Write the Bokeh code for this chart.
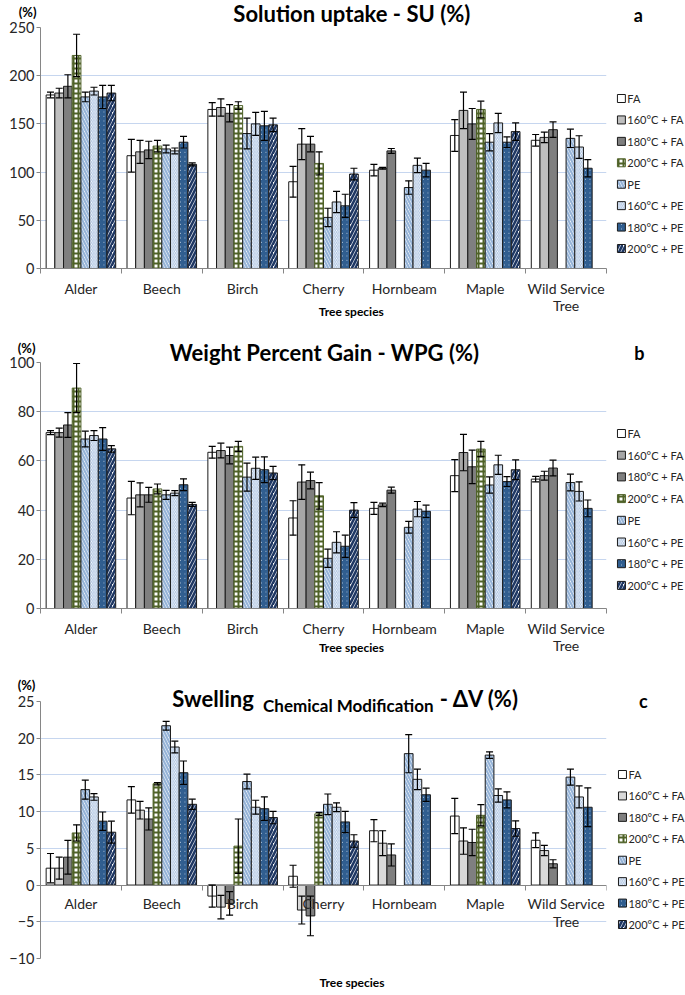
import numpy as np
from bokeh.plotting import figure
from bokeh.models import (Range1d, FixedTicker, SingleIntervalTicker, ColumnDataSource,
                          Whisker, TeeHead)
from bokeh.layouts import column
from bokeh.core.properties import value
from bokeh.embed import file_html
from bokeh.resources import INLINE

# ---------------- data ----------------
SPECIES = ["Alder", "Beech", "Birch", "Cherry", "Hornbeam", "Maple", "Wild Service\nTree"]
TREATMENTS = ["FA", "160°C + FA", "180°C + FA", "200°C + FA",
              "PE", "160°C + PE", "180°C + PE", "200°C + PE"]

# Solution uptake SU (%) - one list per treatment, one value per species
SU_MEAN = [
    [180, 117, 165, 90, 102, 138, 133],
    [182, 121, 167, 129, 104, 164, 136],
    [189, 123, 161, 129, 122, 150, 144],
    [221, 127, 169, 109, None, 165, None],
    [178, 124, 140, 53, 84, 131, 135],
    [184, 122, 150, 69, 107, 151, 126],
    [178, 131, 148, 65, 102, 131, 104],
    [182, 108, 149, 98, None, 142, None],
]
SU_ERR = [
    [3, 17, 7, 16, 6, 16.5, 6],
    [5, 12, 9, 16, 1, 19, 5.5],
    [12, 9, 9, 8, 2.5, 16, 8],
    [22, 6, 4, 12, None, 8.6, None],
    [5, 4, 16, 9.5, 7, 9, 9.5],
    [4, 3, 12, 11, 7.5, 10, 11.7],
    [12, 6, 15, 12, 7, 5.5, 9],
    [8, 1.5, 7, 6, None, 9, None],
]

# Weight percent gain WPG (%)
WPG_MEAN = [
    [71.5, 44.9, 63.5, 36.8, 40.7, 54.0, 52.6],
    [71.5, 46.2, 64.2, 51.4, 42.1, 63.4, 54.0],
    [74.6, 46.2, 62.2, 52.0, 48.1, 57.6, 57.1],
    [89.6, 48.6, 65.9, 45.8, None, 64.8, None],
    [68.9, 46.2, 53.4, 20.4, 33.0, 50.2, 51.2],
    [70.3, 46.9, 57.0, 26.9, 40.4, 58.4, 47.6],
    [68.9, 50.3, 56.4, 25.3, 39.5, 51.6, 40.7],
    [64.9, 42.3, 55.1, 40.0, None, 56.4, None],
]
WPG_ERR = [
    [0.8, 6.8, 2.4, 7.0, 2.4, 6.5, 1.1],
    [1.8, 4.9, 3.0, 7.0, 0.7, 7.4, 1.8],
    [5.0, 3.0, 3.4, 3.4, 1.2, 6.8, 3.2],
    [10.0, 2.0, 2.0, 5.4, None, 3.1, None],
    [3.2, 1.8, 5.7, 3.7, 2.4, 3.3, 3.4],
    [2.0, 1.0, 4.5, 4.3, 3.1, 3.9, 3.9],
    [4.6, 2.4, 5.2, 4.5, 2.5, 2.0, 3.4],
    [1.3, 0.8, 2.7, 3.0, None, 4.0, None],
]

# Swelling (chemical modification) dV (%)
DV_MEAN = [
    [2.3, 11.6, -1.5, 1.2, 7.4, 9.4, 6.1],
    [2.3, 10.2, -3.0, -3.4, 5.7, 6.0, 4.7],
    [3.8, 9.0, -2.5, -4.2, 4.1, 5.8, 2.9],
    [7.1, 13.8, 5.3, 9.7, None, 9.5, None],
    [13.0, 21.7, 14.1, 11.0, 17.9, 17.7, 14.7],
    [12.0, 18.8, 10.6, 10.6, 14.4, 12.2, 12.0],
    [8.7, 15.3, 10.4, 8.6, 12.3, 11.6, 10.6],
    [7.2, 11.0, 9.2, 6.0, None, 7.7, None],
]
DV_ERR = [
    [2.0, 1.8, 1.5, 1.5, 1.5, 2.4, 1.0],
    [1.5, 1.2, 1.6, 1.9, 1.7, 1.8, 0.7],
    [2.3, 1.5, 1.6, 2.7, 1.5, 1.8, 0.55],
    [1.1, 0.15, 3.7, 0.2, None, 1.45, None],
    [1.3, 0.6, 1.0, 1.4, 2.6, 0.45, 1.1],
    [0.45, 0.8, 0.95, 0.6, 1.4, 0.9, 1.5],
    [1.25, 1.6, 1.6, 1.45, 0.9, 1.1, 2.65],
    [1.5, 0.7, 0.85, 0.85, None, 1.05, None],
]

# ---------------- styling ----------------
FONT = "Lato"
PAGE_W = 685
N_SP = len(SPECIES)
N_TR = len(TREATMENTS)
BAR_W = 1.0 / (N_TR + 1.3)
OLIVE = "#4f6228"
EDGE = "#1a1a1a"
AXIS_GRAY = "#868686"
GRID = "#c6d6ef"
TXT = "#262626"


def styles(gray160):
    return [
        dict(fill_color="white", line_color=EDGE),
        dict(fill_color=gray160, line_color=EDGE),
        dict(fill_color="#7f7f7f", line_color=EDGE),
        dict(fill_color="white", line_color=OLIVE, hatch_pattern="cross",
             hatch_color=OLIVE, hatch_weight=2, hatch_scale=5),
        dict(fill_color="white", line_color=EDGE, hatch_pattern="left_diagonal_line",
             hatch_color="#95b3d7", hatch_weight=2.2, hatch_scale=6),
        dict(fill_color="white", line_color=EDGE, hatch_pattern="left_diagonal_line",
             hatch_color="#a9c1e0", hatch_weight=1, hatch_scale=3.5),
        dict(fill_color="white", line_color=EDGE, hatch_pattern="left_diagonal_line",
             hatch_color="#2f5d8f", hatch_weight=2, hatch_scale=4.5),
        dict(fill_color="white", line_color=EDGE, hatch_pattern="right_diagonal_line",
             hatch_color="#1f3864", hatch_weight=2.6, hatch_scale=7),
    ]


class Panel:
    """A figure plus the pixel geometry of its frame (page coordinates)."""

    def __init__(self, page_top, height, frame_lrtb, y_lo, y_hi, step, gray160,
                 means, errs, zero_axis=False):
        fl, fr, ft, fb = frame_lrtb
        self.fl, self.fr, self.ft, self.fb = fl, fr, ft, fb
        self.y_lo, self.y_hi = y_lo, y_hi
        p = figure(width=PAGE_W, height=height, title=None,
                   x_range=Range1d(0, N_SP), y_range=Range1d(y_lo, y_hi),
                   output_backend="svg", toolbar_location=None,
                   min_border_left=fl, min_border_right=PAGE_W - fr,
                   min_border_top=ft - page_top, min_border_bottom=page_top + height - fb)
        self.p = p
        p.outline_line_color = None
        p.background_fill_color = "white"
        p.border_fill_color = "white"

        # x axis: tick marks at category boundaries, names drawn as text glyphs
        ticks = list(range(N_SP + 1))
        p.xaxis.ticker = FixedTicker(ticks=ticks)
        p.xaxis.major_label_overrides = {t: "" for t in ticks}
        p.xaxis.major_label_standoff = 0
        p.xaxis.major_tick_out = 5
        p.xaxis.major_tick_in = 0
        p.xaxis.minor_tick_line_color = None
        p.xaxis.axis_line_color = AXIS_GRAY
        p.xaxis.major_tick_line_color = AXIS_GRAY
        if zero_axis:
            p.xaxis.fixed_location = 0

        p.yaxis.ticker = SingleIntervalTicker(interval=step)
        p.yaxis.major_label_text_font = FONT
        p.yaxis.major_label_text_font_size = "14.5px"
        p.yaxis.major_label_text_color = TXT
        p.yaxis.major_label_standoff = 2
        p.yaxis.major_tick_out = 4
        p.yaxis.major_tick_in = 0
        p.yaxis.minor_tick_line_color = None
        p.yaxis.axis_line_color = AXIS_GRAY
        p.yaxis.major_tick_line_color = AXIS_GRAY

        p.xgrid.visible = False
        p.ygrid.grid_line_color = GRID
        p.ygrid.grid_line_width = 1

        self.sty = styles(gray160)
        for j in range(N_TR):
            xs, tops, lo, hi = [], [], [], []
            for i in range(N_SP):
                m = means[j][i]
                if m is None:
                    continue
                e = errs[j][i]
                xs.append(i + 0.5 + (j - (N_TR - 1) / 2) * BAR_W)
                tops.append(m)
                lo.append(m - e)
                hi.append(m + e)
            src = ColumnDataSource(dict(x=xs, top=tops, lower=lo, upper=hi))
            p.vbar(x="x", top="top", bottom=0, width=BAR_W, source=src,
                   line_width=1, **self.sty[j])
            p.add_layout(Whisker(source=src, base="x", upper="upper", lower="lower",
                                 dimension="height", line_color="black", line_width=1.2,
                                 upper_head=TeeHead(size=7, line_color="black", line_width=1.2),
                                 lower_head=TeeHead(size=7, line_color="black", line_width=1.2),
                                 level="annotation"))

    def dx(self, px):
        return (px - self.fl) / (self.fr - self.fl) * N_SP

    def dy(self, py):
        return self.y_hi - (py - self.ft) / (self.fb - self.ft) * (self.y_hi - self.y_lo)

    def text(self, px, py, s, size, bold=True, align="center", baseline="middle", color="black"):
        self.p.text(x=[self.dx(px)], y=[self.dy(py)], text=[s],
                    text_font=value(FONT), text_font_size=size,
                    text_font_style="bold" if bold else "normal",
                    text_color=color, text_align=align, text_baseline=baseline,
                    level="overlay")

    def categories(self, gap_px, line_height):
        # names hang below the zero line, gap in pixels converted through the y scale
        per_px = (self.y_hi - self.y_lo) / (self.fb - self.ft)
        ys = [0 - gap_px * per_px] * N_SP
        self.p.text(x=np.arange(N_SP) + 0.5, y=ys, text=SPECIES,
                    text_font=value(FONT), text_font_size="14px", text_color=TXT,
                    text_align="center", text_baseline="top",
                    text_line_height=line_height, level="overlay")

    def legend(self, glyph_left, first_cy, pitch, box=8):
        for j, name in enumerate(TREATMENTS):
            cy = first_cy + j * pitch
            self.p.quad(left=[self.dx(glyph_left)], right=[self.dx(glyph_left + box)],
                        top=[self.dy(cy - box / 2)], bottom=[self.dy(cy + box / 2)],
                        line_width=1, level="overlay", **self.sty[j])
            self.text(glyph_left + box + 2, cy, name, "11px", bold=False, align="left",
                      color=TXT)


# ---------------- panel a ----------------
A = Panel(0, 318, (36, 606, 27, 268), 0, 250, 50, "#bfbfbf", SU_MEAN, SU_ERR)
A.text(349.5, 13, "Solution uptake - SU (%)", "22px")
A.text(638, 14, "a", "18px")
A.text(23, 11, "(%)", "13px")
A.categories(11, 1.0)
A.text(349, 311, "Tree species", "12px")
A.legend(617, 98, 21.43)

# ---------------- panel b ----------------
B = Panel(318, 336, (40, 608, 362, 608), 0, 100, 20, "#a6a6a6", WPG_MEAN, WPG_ERR)
B.text(325, 352, "Weight Percent Gain - WPG (%)", "22px")
B.text(641, 352, "b", "18px")
B.text(26, 347, "(%)", "13px")
B.categories(11, 1.0)
B.text(352, 647, "Tree species", "12px")
B.legend(619, 433, 21.7)

# ---------------- panel c ----------------
C = Panel(654, 336, (40, 607, 701, 958), -10, 25, 5, "#d9d9d9", DV_MEAN, DV_ERR,
          zero_axis=True)
C.text(172, 698, "Swelling", "22px", align="left", baseline="alphabetic")
C.text(263, 705, "Chemical Modification", "17px", align="left", baseline="alphabetic")
C.text(440, 698, "- ΔV (%)", "22px", align="left", baseline="alphabetic")
C.text(644, 700, "c", "18px")
C.text(26, 684, "(%)", "13px")
C.categories(10, 1.08)
C.text(352, 982, "Tree species", "12px")
C.legend(619, 774, 21.43)

layout = column(A.p, B.p, C.p, spacing=0)
open("out.html", "w").write(file_html(layout, INLINE))
